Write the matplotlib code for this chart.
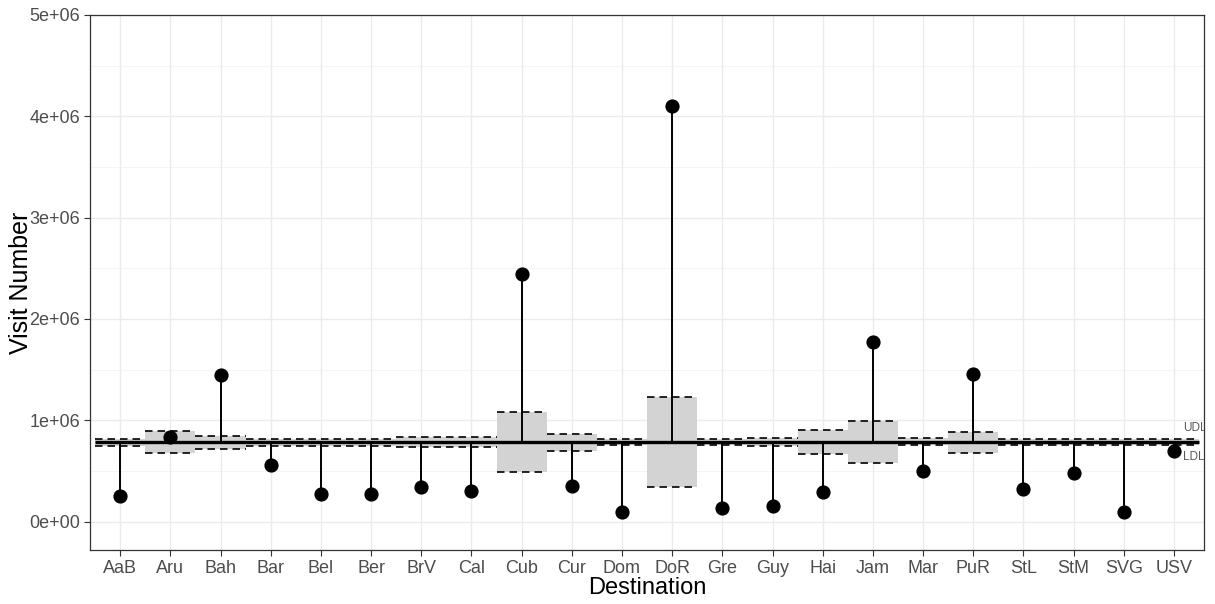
import numpy as np
import matplotlib.pyplot as plt
from matplotlib.ticker import FixedLocator

plt.rcParams['font.family'] = ['Liberation Sans', 'DejaVu Sans']

destinations = ['AaB', 'Aru', 'Bah', 'Bar', 'Bel', 'Ber', 'BrV', 'Cal', 'Cub', 'Cur', 'Dom',
                'DoR', 'Gre', 'Guy', 'Hai', 'Jam', 'Mar', 'PuR', 'StL', 'StM', 'SVG', 'USV']
visits = [0.253, 0.831, 1.444, 0.558, 0.270, 0.270, 0.342, 0.305, 2.448, 0.348, 0.095,
          4.101, 0.135, 0.155, 0.289, 1.769, 0.499, 1.454, 0.319, 0.479, 0.095, 0.696]
udl = [0.814, 0.893, 0.846, 0.817, 0.817, 0.817, 0.834, 0.834, 1.080, 0.866, 0.811,
       1.227, 0.811, 0.824, 0.903, 0.994, 0.821, 0.886, 0.814, 0.814, 0.814, 0.814]
ldl = [0.748, 0.673, 0.718, 0.748, 0.748, 0.748, 0.732, 0.732, 0.489, 0.699, 0.758,
       0.339, 0.758, 0.748, 0.669, 0.581, 0.755, 0.679, 0.755, 0.755, 0.755, 0.755]
center = 0.781

visits = np.array(visits) * 1e6
udl = np.array(udl) * 1e6
ldl = np.array(ldl) * 1e6
center = center * 1e6

x = np.arange(1, len(destinations) + 1)

fig = plt.figure(figsize=(12.15, 6.04), dpi=100)
ax = fig.add_axes([0.0741, 0.0894, 0.9169, 0.8858])

# limit bands
for xi, lo, hi in zip(x, ldl, udl):
    ax.fill_between([xi - 0.5, xi + 0.5], lo, hi, color='#d3d3d3', lw=0, zorder=2)
    ax.hlines([lo, hi], xi - 0.5, xi + 0.5, colors='black', linestyles=(0, (4.5, 3)), lw=1.2, zorder=3)

ax.hlines(center, 0.5, len(x) + 0.5, colors='black', lw=2.4, zorder=4)

# lollipops
ax.vlines(x, center, visits, colors='black', lw=1.4, zorder=5)
ax.scatter(x, visits, s=85, color='black', zorder=6)

ax.text(22.18, 0.925e6, 'UDL', fontsize=8.5, color='#5a5a5a', va='center', ha='left', clip_on=True)
ax.text(22.18, 0.64e6, 'LDL', fontsize=8.5, color='#5a5a5a', va='center', ha='left', clip_on=True)

ax.set_xlim(0.4, len(x) + 0.6)
ax.set_ylim(-0.28e6, 5.0e6)
ax.set_xticks(x)
ax.set_xticklabels(destinations)
yt = [0, 1e6, 2e6, 3e6, 4e6, 5e6]
ax.set_yticks(yt)
ax.set_yticklabels(['0e+00', '1e+06', '2e+06', '3e+06', '4e+06', '5e+06'])
ax.yaxis.set_minor_locator(FixedLocator([0.5e6, 1.5e6, 2.5e6, 3.5e6, 4.5e6]))

ax.grid(which='major', color='#ebebeb', lw=1.0, zorder=0)
ax.grid(which='minor', axis='y', color='#f2f2f2', lw=0.6, zorder=0)
ax.set_axisbelow(True)

ax.tick_params(axis='both', which='major', labelsize=13, labelcolor='#4d4d4d', color='#333333',
               length=4, width=0.8, pad=3)
ax.tick_params(axis='y', which='minor', length=0)
for s in ax.spines.values():
    s.set_color('#333333')
    s.set_linewidth(0.9)

ax.set_xlabel('Destination', fontsize=17, labelpad=0)
ax.set_ylabel('Visit Number', fontsize=18)
ax.yaxis.set_label_coords(-0.051, 0.5)

fig.savefig('out.png', dpi=100)
